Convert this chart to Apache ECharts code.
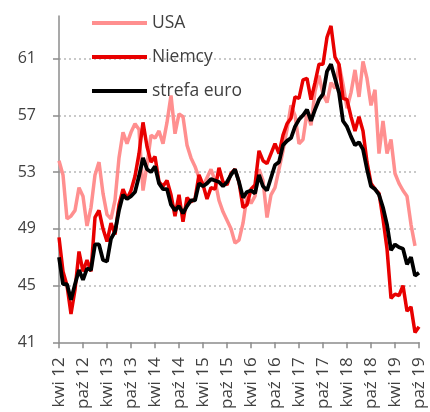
<!DOCTYPE html>
<html>
<head>
<meta charset="utf-8">
<script src="https://cdn.jsdelivr.net/npm/echarts@6/dist/echarts.min.js"></script>
<style>
html,body{margin:0;padding:0;background:#fff;}
#chart{width:430px;height:412px;}
</style>
</head>
<body>
<div id="chart"></div>
<script>
// Month names (Polish) and years for the category axis (Apr 2012 - Oct 2019)
var monthNames = ['sty','lut','mar','kwi','maj','cze','lip','sie','wrz','paź','lis','gru'];
var years = ['12','13','14','15','16','17','18','19'];
var categories = [];
for (var yi = 0; yi < years.length; yi++) {
  for (var mi = 0; mi < 12; mi++) {
    if (yi === 0 && mi < 3) continue;
    if (yi === years.length - 1 && mi > 9) continue;
    categories.push(monthNames[mi] + ' ' + years[yi]);
  }
}

var seriesNames = ['USA', 'Niemcy', 'strefa euro'];

// USA (Apr 2012 - Sep 2019)
var usa = [
  53.8, 52.8, 49.7, 49.9, 50.3, 51.9, 51.3, 49.2, 50.5,
  52.8, 53.7, 51.5, 50.0, 49.7, 51.0, 54.0, 55.8, 55.0, 55.8, 56.4, 56.0,
  51.7, 53.5, 55.6, 55.4, 55.9, 55.0, 56.5, 58.4, 55.7, 57.1, 56.9, 54.9,
  54.0, 53.4, 52.6, 52.0, 52.6, 53.2, 52.4, 51.0, 50.2, 49.6, 49.0, 48.0,
  48.2, 49.4, 51.3, 50.8, 51.3, 53.2, 52.4, 49.8, 51.4, 51.9, 53.2, 54.5,
  56.0, 57.7, 57.0, 55.0, 55.3, 57.2, 56.3, 58.7, 59.8, 58.5, 57.9, 59.3,
  58.9, 60.6, 59.2, 57.5, 58.6, 60.2, 58.3, 60.8, 59.6, 57.7, 58.8, 54.3,
  56.6, 54.3, 55.3, 52.9, 52.2, 51.7, 51.3, 49.3, 47.8
];

// Niemcy (Apr 2012 - Oct 2019)
var niemcy = [
  48.4, 46.0, 45.0, 43.0, 44.7, 47.4, 46.0, 46.8, 46.0,
  49.8, 50.3, 49.0, 48.1, 49.4, 48.6, 50.7, 51.8, 51.1, 51.7, 52.7, 54.3,
  56.5, 54.8, 53.7, 54.1, 52.3, 52.0, 52.4, 51.4, 49.9, 51.4, 49.5, 51.2,
  50.9, 51.1, 52.8, 52.1, 51.1, 51.9, 51.8, 53.3, 52.3, 52.1, 52.9, 53.2,
  52.3, 50.5, 50.7, 51.8, 52.1, 54.5, 53.8, 53.6, 54.3, 55.0, 54.3, 55.6,
  56.4, 56.8, 58.3, 58.2, 59.5, 59.6, 58.1, 59.3, 60.6, 60.6, 62.5, 63.3,
  61.1, 60.6, 58.2, 58.1, 56.9, 55.9, 56.9, 55.9, 53.7, 52.2, 51.8, 51.5,
  49.7, 47.6, 44.1, 44.4, 44.3, 45.0, 43.2, 43.5, 41.7, 42.1
];

// strefa euro (Apr 2012 - Oct 2019)
var strefaEuro = [
  47.0, 45.1, 45.1, 44.0, 45.1, 46.1, 45.4, 46.2, 46.1,
  47.9, 47.9, 46.8, 46.7, 48.3, 48.8, 50.3, 51.4, 51.1, 51.3, 51.6, 52.7,
  54.0, 53.2, 53.0, 53.4, 52.2, 51.8, 51.8, 50.7, 50.3, 50.6, 50.1, 50.6,
  51.0, 51.0, 52.2, 52.0, 52.2, 52.5, 52.4, 52.3, 52.0, 52.3, 52.8, 53.2,
  52.3, 51.2, 51.6, 51.7, 51.5, 52.8, 52.0, 51.7, 52.6, 53.5, 53.7, 54.9,
  55.2, 55.4, 56.2, 56.7, 57.0, 57.4, 56.6, 57.4, 58.1, 58.5, 60.1, 60.6,
  59.6, 58.6, 56.6, 56.2, 55.5, 54.9, 55.1, 54.6, 53.2, 52.0, 51.8, 51.4,
  50.5, 49.3, 47.5, 47.9, 47.7, 47.6, 46.5, 47.0, 45.7, 45.9
];

var yTicks = [41, 45, 49, 53, 57, 61];

var chart = echarts.init(document.getElementById('chart'), null, {renderer: 'canvas'});
var fontFam = "'Open Sans', sans-serif";
var axisGrey = '#8c8c8c';
var textGrey = '#404040';

chart.setOption({
  animation: false,
  backgroundColor: '#ffffff',
  grid: {left: 59, right: 11, top: 16, bottom: 68, containLabel: false},
  legend: {
    data: seriesNames,
    orient: 'vertical',
    icon: 'rect',
    left: 87,
    top: 8,
    itemWidth: 55,
    itemHeight: 4,
    itemGap: 14,
    textStyle: {fontFamily: fontFam, fontSize: 17.5, color: textGrey, lineHeight: 20}
  },
  xAxis: {
    type: 'category',
    data: categories,
    boundaryGap: false,
    axisLine: {lineStyle: {color: axisGrey, width: 1.5}},
    axisTick: {show: true, interval: 5, length: 6, lineStyle: {color: axisGrey, width: 1.5}},
    axisLabel: {interval: 5, rotate: 90, margin: 15, fontFamily: fontFam, fontSize: 17, color: textGrey},
    splitLine: {show: false}
  },
  yAxis: {
    type: 'value',
    min: yTicks[0],
    max: 64,
    interval: 4,
    axisLine: {show: true, lineStyle: {color: axisGrey, width: 1.5}},
    axisTick: {show: true, length: 6, lineStyle: {color: axisGrey, width: 1.5}},
    axisLabel: {margin: 23, fontFamily: fontFam, fontSize: 16, color: textGrey, showMaxLabel: false},
    splitLine: {show: true, showMinLine: false, showMaxLine: false, lineStyle: {color: '#b8b8b8', type: [2, 3], width: 1.5}}
  },
  series: [
    {name: seriesNames[0], type: 'line', data: usa, symbol: 'none', z: 1,
     lineStyle: {color: '#ff8f8f', width: 3.5}, itemStyle: {color: '#ff8f8f'}},
    {name: seriesNames[1], type: 'line', data: niemcy, symbol: 'none', z: 2,
     lineStyle: {color: '#e80000', width: 3.5}, itemStyle: {color: '#e80000'}},
    {name: seriesNames[2], type: 'line', data: strefaEuro, symbol: 'none', z: 3,
     lineStyle: {color: '#000000', width: 3.8}, itemStyle: {color: '#000000'}}
  ]
});
</script>
</body>
</html>
